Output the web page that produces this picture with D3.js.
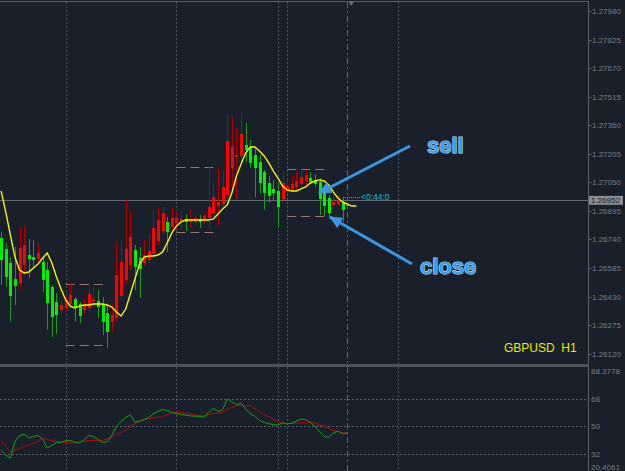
<!DOCTYPE html>
<html>
<head>
<meta charset="utf-8">
<script src="https://cdn.jsdelivr.net/npm/d3@7/dist/d3.min.js"></script>
<style>
    html, body { margin: 0; padding: 0; background: #19202b; overflow: hidden; }
    svg { display: block; }
</style>
</head>
<body>
<script>
// heiken ashi bars, GBPUSD H1
let opens = [1.26748, 1.26688, 1.26612, 1.26525, 1.26503, 1.26601, 1.26655, 1.26644, 1.26634, 1.26617,
    1.26574, 1.26482, 1.26400, 1.26357, 1.26368, 1.26389, 1.26416, 1.26389, 1.26357, 1.26368,
    1.26400, 1.26406, 1.26389, 1.26340, 1.26292, 1.26313, 1.26433, 1.26520, 1.26601, 1.26683,
    1.26639, 1.26612, 1.26628, 1.26661, 1.26731, 1.26786, 1.26835, 1.26807, 1.26829, 1.26835,
    1.26851, 1.26835, 1.26835, 1.26851, 1.26845, 1.26856, 1.26883, 1.26921, 1.26932, 1.26981,
    1.27128, 1.27187, 1.27193, 1.27253, 1.27242, 1.27198, 1.27160, 1.27106, 1.27046, 1.27014,
    1.27003, 1.26959, 1.27003, 1.27014, 1.27025, 1.27041, 1.27057, 1.27073, 1.27063, 1.27052,
    1.27003, 1.26965, 1.26927, 1.26932, 1.26943, 1.26921];
let highs = [1.26780, 1.26721, 1.26644, 1.26699, 1.26802, 1.26813, 1.26742, 1.26737, 1.26721, 1.26650,
    1.26617, 1.26492, 1.26449, 1.26411, 1.26438, 1.26498, 1.26427, 1.26400, 1.26411, 1.26492,
    1.26482, 1.26465, 1.26427, 1.26384, 1.26389, 1.26726, 1.26737, 1.26954, 1.26889, 1.26710,
    1.26699, 1.26737, 1.26769, 1.26900, 1.26911, 1.26916, 1.26862, 1.26911, 1.26894, 1.26894,
    1.26878, 1.26905, 1.26878, 1.26873, 1.26883, 1.27133, 1.27046, 1.27128, 1.27117, 1.27426,
    1.27405, 1.27345, 1.27432, 1.27372, 1.27280, 1.27236, 1.27198, 1.27117, 1.27084, 1.27063,
    1.27052, 1.27117, 1.27063, 1.27084, 1.27106, 1.27117, 1.27117, 1.27106, 1.27095, 1.27073,
    1.27030, 1.26981, 1.26976, 1.26981, 1.26965, 1.26949];
let lows = [1.26492, 1.26482, 1.26292, 1.26384, 1.26465, 1.26547, 1.26530, 1.26590, 1.26606, 1.26454,
    1.26248, 1.26210, 1.26226, 1.26335, 1.26346, 1.26368, 1.26292, 1.26286, 1.26335, 1.26346,
    1.26373, 1.26313, 1.26221, 1.26150, 1.26237, 1.26292, 1.26411, 1.26498, 1.26574, 1.26465,
    1.26422, 1.26596, 1.26612, 1.26650, 1.26710, 1.26769, 1.26672, 1.26791, 1.26791, 1.26797,
    1.26786, 1.26802, 1.26818, 1.26802, 1.26824, 1.26791, 1.26845, 1.26818, 1.26911, 1.26927,
    1.27019, 1.26954, 1.27160, 1.27160, 1.27128, 1.26970, 1.26992, 1.26900, 1.26938, 1.26954,
    1.26802, 1.26954, 1.26987, 1.26997, 1.27008, 1.27025, 1.27035, 1.27041, 1.27025, 1.26873,
    1.26867, 1.26856, 1.26911, 1.26921, 1.26835, 1.26916];
let closes = [1.26628, 1.26536, 1.26433, 1.26487, 1.26693, 1.26710, 1.26634, 1.26628, 1.26666, 1.26520,
    1.26395, 1.26319, 1.26330, 1.26384, 1.26411, 1.26438, 1.26368, 1.26324, 1.26389, 1.26444,
    1.26416, 1.26373, 1.26292, 1.26237, 1.26330, 1.26547, 1.26617, 1.26688, 1.26753, 1.26590,
    1.26579, 1.26655, 1.26677, 1.26802, 1.26845, 1.26883, 1.26780, 1.26856, 1.26856, 1.26851,
    1.26835, 1.26845, 1.26856, 1.26835, 1.26867, 1.26916, 1.26970, 1.26943, 1.27025, 1.27274,
    1.27242, 1.27198, 1.27312, 1.27226, 1.27155, 1.27128, 1.27046, 1.26992, 1.26976, 1.26992,
    1.26916, 1.27046, 1.27030, 1.27041, 1.27057, 1.27079, 1.27090, 1.27052, 1.27041, 1.26959,
    1.26921, 1.26883, 1.26943, 1.26954, 1.26900, 1.26938];

// moving average, drawn 2 bars ahead
let maValues = [1.27003, 1.26889, 1.26764, 1.26644, 1.26574, 1.26558, 1.26563, 1.26585, 1.26606, 1.26639,
    1.26666, 1.26612, 1.26536, 1.26471, 1.26411, 1.26378, 1.26368, 1.26378, 1.26384, 1.26384,
    1.26389, 1.26389, 1.26389, 1.26384, 1.26373, 1.26346, 1.26324, 1.26362, 1.26444, 1.26525,
    1.26606, 1.26644, 1.26650, 1.26650, 1.26655, 1.26672, 1.26721, 1.26775, 1.26813, 1.26835,
    1.26845, 1.26845, 1.26845, 1.26845, 1.26845, 1.26845, 1.26851, 1.26878, 1.26905, 1.26927,
    1.26992, 1.27084, 1.27149, 1.27209, 1.27242, 1.27242, 1.27220, 1.27193, 1.27155, 1.27111,
    1.27073, 1.27030, 1.27008, 1.27003, 1.27003, 1.27014, 1.27025, 1.27046, 1.27057, 1.27063,
    1.27057, 1.27035, 1.26997, 1.26965, 1.26943, 1.26932, 1.26921, 1.26921];

// oscillator in the lower window
let oscMain = [34.4, 30.9, 29.0, 39.9, 43.8, 44.6, 42.1, 43.1, 43.8, 41.4,
    35.6, 37.4, 39.1, 39.3, 40.4, 40.6, 39.3, 38.9, 41.0, 43.8,
    43.1, 41.2, 39.1, 39.7, 43.8, 50.0, 53.0, 55.6, 57.3, 52.4,
    53.2, 54.3, 55.6, 57.9, 59.6, 60.7, 60.1, 58.8, 58.1, 57.7,
    57.1, 56.6, 56.4, 56.4, 55.8, 59.0, 61.6, 59.6, 60.7, 67.8,
    65.9, 64.1, 64.8, 61.1, 57.9, 56.4, 53.6, 52.4, 51.5, 50.9,
    50.6, 52.1, 51.3, 51.9, 53.2, 54.5, 54.3, 52.4, 50.0, 46.4,
    43.1, 42.5, 45.5, 46.6, 45.1, 45.3];
let oscSignal = [40.4, 36.7, 32.9, 34.4, 35.4, 36.7, 37.6, 38.9, 39.9, 41.9,
    41.2, 40.4, 39.9, 39.5, 39.1, 38.9, 39.1, 39.5, 40.1, 40.4,
    40.6, 40.6, 40.6, 41.4, 42.7, 44.2, 45.7, 47.4, 49.6, 51.7,
    52.8, 54.1, 54.7, 55.1, 55.8, 56.0, 57.5, 58.4, 59.2, 58.8,
    58.4, 57.9, 57.3, 56.6, 56.9, 57.5, 58.1, 58.4, 59.2, 60.9,
    62.2, 63.3, 63.7, 63.1, 63.3, 61.4, 59.6, 57.7, 56.0, 54.3,
    52.8, 51.7, 51.5, 51.7, 51.9, 52.1, 52.4, 52.6, 51.9, 50.9,
    49.8, 48.7, 47.2, 46.4, 45.5, 45.3];

let priceTicks = [1.27980, 1.27825, 1.27670, 1.27515, 1.27360, 1.27205, 1.27050,
    1.26895, 1.26740, 1.26585, 1.26430, 1.26275, 1.26120];
let oscLevels = [68, 50, 32];
let oscMax = 88.3778, oscMin = 20.4061;
let bidPrice = 1.26952;
let timerText = "<0:44:0";

// period separators (bar index) and the current bar
let separatorBars = [14, 38, 60, 62, 86];
let currentBar = 75;

// dashed range boxes
let boxFrom = [14, 38, 62];
let boxTo = [22, 46, 70];
let boxHigh = [1.26498, 1.27133, 1.27120];
let boxLow = [1.26167, 1.26780, 1.26867];

let width = 625, height = 471;
let axisX = 588.5;
let mainBottom = 364, oscTop = 367;

let svg = d3.select("body").append("svg").attr("width", width).attr("height", height)
    .style("font-family", "'Liberation Sans', Arial, sans-serif");
svg.append("rect").attr("width", width).attr("height", height).attr("fill", "#19202b");

let x = d3.scaleLinear().domain([0, 75]).range([1.1, 347.2]);
let y = d3.scaleLinear().domain([1.26120, 1.27980]).range([353.6, 11]);
let yOsc = d3.scaleLinear().domain([32, 68]).range([453.5, 398.5]);
let px = v => Math.round(v) + 0.5;

let defs = svg.append("defs");
defs.append("marker").attr("id", "head")
    .attr("markerUnits", "userSpaceOnUse")
    .attr("markerWidth", 14).attr("markerHeight", 12)
    .attr("refX", 12).attr("refY", 6).attr("orient", "auto")
    .append("path").attr("d", "M0,0 L13,6 L0,12 Z").attr("fill", "#3a97e4");

// grid
let grid = svg.append("g").attr("stroke", "#4a525c").attr("stroke-dasharray", "2,2");
separatorBars.forEach(b => {
    grid.append("line").attr("x1", px(x(b))).attr("x2", px(x(b))).attr("y1", 2).attr("y2", mainBottom);
    grid.append("line").attr("x1", px(x(b))).attr("x2", px(x(b))).attr("y1", oscTop).attr("y2", height);
});
svg.append("g").attr("stroke", "#585ca0").attr("stroke-dasharray", "6,3,2,3")
    .selectAll("line").data([[2, mainBottom], [oscTop, height]]).join("line")
    .attr("x1", px(x(currentBar))).attr("x2", px(x(currentBar)))
    .attr("y1", d => d[0]).attr("y2", d => d[1]);

// range boxes
let boxes = svg.append("g").attr("stroke", "#9c726c").attr("stroke-dasharray", "9,5");
boxFrom.forEach((b, k) => {
    [boxHigh[k], boxLow[k]].forEach(p => {
        boxes.append("line").attr("x1", x(b)).attr("x2", x(boxTo[k]))
            .attr("y1", px(y(p))).attr("y2", px(y(p)));
    });
});

// bid line
svg.append("line").attr("x1", 0).attr("x2", axisX).attr("y1", px(y(bidPrice))).attr("y2", px(y(bidPrice)))
    .attr("stroke", "#636a73");

// candles
let bars = d3.range(opens.length);
let up = i => closes[i] >= opens[i];
svg.append("g").selectAll("line").data(bars).join("line")
    .attr("x1", i => px(x(i))).attr("x2", i => px(x(i)))
    .attr("y1", i => y(highs[i])).attr("y2", i => y(lows[i]))
    .attr("stroke", i => up(i) ? "#b00000" : "#1c9a1c");
svg.append("g").attr("shape-rendering", "crispEdges").selectAll("rect").data(bars).join("rect")
    .attr("x", i => Math.round(x(i)) - 1).attr("width", 3)
    .attr("y", i => y(Math.max(opens[i], closes[i])))
    .attr("height", i => Math.max(1, Math.abs(y(opens[i]) - y(closes[i]))))
    .attr("fill", i => up(i) ? "#ff0000" : "#00f000");

// moving average
svg.append("path").datum(maValues)
    .attr("d", d3.line().x((d, i) => x(i)).y(d => y(d)))
    .attr("fill", "none").attr("stroke", "#f5f500").attr("stroke-width", 1.4);

// timer label
let bidY = y(bidPrice) - 3.5;
svg.append("line").attr("x1", 343).attr("x2", 360).attr("y1", px(bidY)).attr("y2", px(bidY))
    .attr("stroke", "#23b0c0").attr("stroke-dasharray", "1,1");
svg.append("text").attr("x", 361).attr("y", bidY + 3).text(timerText)
    .attr("font-size", 8.5).attr("fill", "#27b6c6");

// arrows and notes
svg.append("line").attr("x1", 410).attr("y1", 146).attr("x2", 319).attr("y2", 193)
    .attr("stroke", "#3a97e4").attr("stroke-width", 3).attr("marker-end", "url(#head)");
svg.append("line").attr("x1", 412).attr("y1", 264).attr("x2", 330).attr("y2", 217)
    .attr("stroke", "#3a97e4").attr("stroke-width", 3).attr("marker-end", "url(#head)");
svg.selectAll("text.note").data([["sell", 427, 153], ["close", 420, 274]]).join("text")
    .attr("class", "note").attr("x", d => d[1]).attr("y", d => d[2]).text(d => d[0])
    .attr("font-size", 22).attr("font-weight", "bold")
    .attr("fill", "#3d9de8").attr("stroke", "#b8dcf8").attr("stroke-width", 1.2)
    .attr("paint-order", "stroke");

svg.append("text").attr("x", 504).attr("y", 351.5).text("GBPUSD  H1")
    .style("white-space", "pre")
    .attr("font-size", 12).attr("fill", "#e8e800");

// shift marker
svg.append("path").attr("d", `M${x(currentBar) + 1},1 L${x(currentBar) + 7},1 L${x(currentBar) + 4},6 Z`)
    .attr("fill", "#6d747d");

// frame and separator
svg.append("line").attr("x1", 0).attr("x2", axisX).attr("y1", 1.5).attr("y2", 1.5).attr("stroke", "#59606a");
svg.append("line").attr("x1", axisX).attr("x2", axisX).attr("y1", 1).attr("y2", height).attr("stroke", "#59606a");
svg.append("rect").attr("x", 0).attr("y", mainBottom).attr("width", axisX + 0.5).attr("height", 3).attr("fill", "#4b525b");

// price axis
let axis = svg.append("g").attr("font-size", 8).attr("fill", "#767d86");
priceTicks.forEach(p => {
    axis.append("line").attr("x1", axisX).attr("x2", axisX + 3).attr("y1", px(y(p))).attr("y2", px(y(p)))
        .attr("stroke", "#59606a");
    axis.append("text").attr("x", 592).attr("y", y(p) + 3).text(p.toFixed(5));
});
svg.append("rect").attr("x", 589).attr("y", y(bidPrice) - 4.5).attr("width", 34).attr("height", 9)
    .attr("fill", "#868c94");
svg.append("text").attr("x", 591).attr("y", y(bidPrice) + 3).text(bidPrice.toFixed(5))
    .attr("font-size", 8).attr("fill", "#1b222c");

// oscillator window
let lvl = svg.append("g").attr("stroke", "#59606a").attr("stroke-dasharray", "2,2");
oscLevels.forEach(v => lvl.append("line").attr("x1", 0).attr("x2", axisX).attr("y1", px(yOsc(v))).attr("y2", px(yOsc(v))));
let oscLine = d3.line().x((d, i) => x(i)).y(d => yOsc(d));
svg.append("path").datum(oscSignal).attr("d", oscLine).attr("fill", "none").attr("stroke", "#b40a0a");
svg.append("path").datum(oscMain).attr("d", oscLine).attr("fill", "none").attr("stroke", "#14a014");

oscLevels.forEach(v => {
    axis.append("text").attr("x", 591).attr("y", yOsc(v) + 3).text(v);
});
axis.append("text").attr("x", 591).attr("y", 374).text(oscMax.toFixed(4));
axis.append("text").attr("x", 591).attr("y", 470).text(oscMin.toFixed(4));
</script>
</body>
</html>
